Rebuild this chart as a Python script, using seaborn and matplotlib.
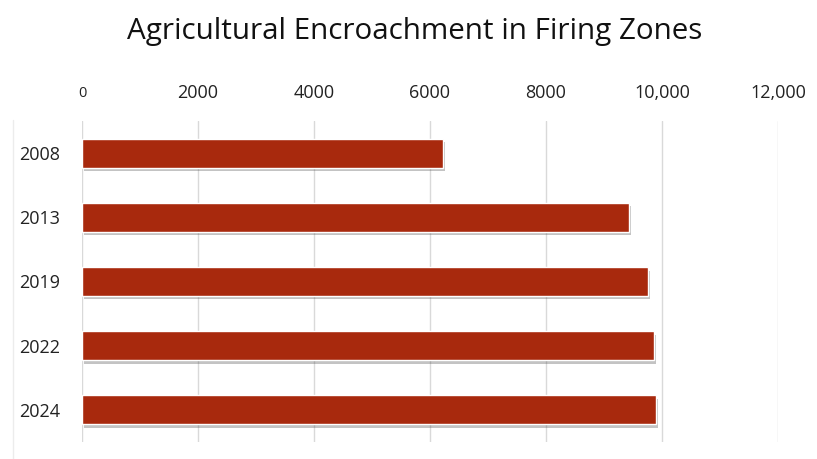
import matplotlib
matplotlib.use("Agg")
import matplotlib.pyplot as plt
import matplotlib.patheffects as pe
import seaborn as sns
import pandas as pd

years = ["2008", "2013", "2019", "2022", "2024"]
values = [6230, 9430, 9750, 9860, 9890]
xticks = [0, 2000, 4000, 6000, 8000, 10000, 12000]
xticklabels = ["0", "2000", "4000", "6000", "8000", "10,000", "12,000"]
title = "Agricultural Encroachment in Firing Zones"

sns.set_theme(style="white")
plt.rcParams['font.family'] = ['Open Sans', 'DejaVu Sans']

df = pd.DataFrame({"year": years, "value": values})

fig = plt.figure(figsize=(8.17, 4.59), dpi=100)
ax = fig.add_axes([82/817, 1 - 442/459, (778 - 82)/817, (442 - 121)/459])

sns.barplot(data=df, y="year", x="value", orient="h", color="#A8290D",
            saturation=1, width=0.45, ax=ax, zorder=3)
for p in ax.patches:
    p.set_path_effects([pe.SimplePatchShadow(offset=(1.5, -2.5), shadow_rgbFace="#555555", alpha=0.35), pe.Normal()])

ax.set_xlim(0, 12000)
ax.set_ylim(4.5, -0.5)
ax.xaxis.tick_top()
ax.set_xticks(xticks)
ax.set_xticklabels(xticklabels, fontsize=13, color="#222222", va="center")
ax.get_xticklabels()[0].set_fontsize(10.5)
ax.tick_params(axis="x", length=0, pad=20)
ax.tick_params(axis="y", length=0, pad=16, labelsize=13, labelcolor="#222222")
ax.set_xlabel("")
ax.set_ylabel("")
ax.grid(axis="x", color="#d9d9d9", linewidth=1, zorder=0)
ax.grid(axis="y", visible=False)
for s in ax.spines.values():
    s.set_visible(False)

fig.text(415/817, 1 - 31/459, title, ha="center", va="center", fontsize=21.3, color="#111111")
fig.add_artist(plt.Line2D([13/817, 13/817], [0, 1 - 120/459], color="#ececec", linewidth=1))

fig.savefig("out.png", dpi=100)
